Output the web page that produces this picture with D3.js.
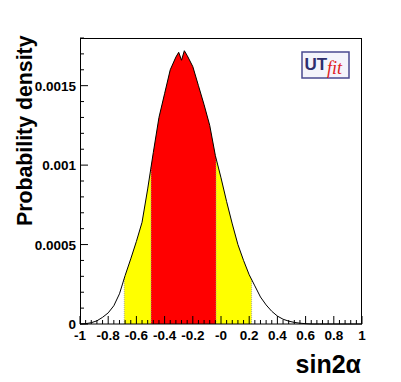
<!DOCTYPE html>
<html><head><meta charset="utf-8">
<script src="https://cdn.jsdelivr.net/npm/d3@7"></script>
<style>body{margin:0;background:#fff}svg{display:block}</style>
</head><body>
<script>
const xValues = [-1.00,-0.96,-0.92,-0.88,-0.84,-0.80,-0.76,-0.72,-0.68,-0.64,-0.60,-0.56,-0.52,-0.48,-0.44,-0.40,-0.36,-0.32,-0.30,-0.28,-0.26,-0.24,-0.20,-0.16,-0.12,-0.08,-0.04,0.00,0.04,0.08,0.12,0.16,0.20,0.24,0.28,0.32,0.36,0.40,0.44,0.48,0.52,0.56,0.60,0.64,0.70,0.80,0.90,1.00];
const density = [0,0.000002,0.000008,0.00002,0.000042,0.00007,0.000115,0.00019,0.000305,0.00041,0.00052,0.00064,0.00085,0.00108,0.0013,0.00145,0.0016,0.00168,0.00171,0.00166,0.00172,0.00169,0.00162,0.0015,0.00138,0.00125,0.00106,0.00092,0.00077,0.00063,0.0005,0.0004,0.00031,0.00024,0.00017,0.00012,0.00008,0.00005,0.00003,0.000018,0.00001,0.000005,0.000002,0,0,0,0,0];
const interval68 = [-0.496, -0.035];
const interval95 = [-0.686, 0.217];
const xTicks = [-1,-0.8,-0.6,-0.4,-0.2,0,0.2,0.4,0.6,0.8,1];
const xTickLabels = ["-1","-0.8","-0.6","-0.4","-0.2","-0","0.2","0.4","0.6","0.8","1"];
const yTicks = [0,0.0005,0.001,0.0015];
const yTickLabels = ["0","0.0005","0.001","0.0015"];

const W=401,H=382;
const FONT="Liberation Sans, Arial, Helvetica, sans-serif";
const svg=d3.select("body").append("svg").attr("width",W).attr("height",H);
const x=d3.scaleLinear().domain([-1,1]).range([80,362]);
const y=d3.scaleLinear().domain([0,0.0018]).range([324,38]);
const data=xValues.map((v,i)=>({x:v,y:density[i]}));
const area=d3.area().x(d=>x(d.x)).y0(y(0)).y1(d=>y(d.y));
const line=d3.line().x(d=>x(d.x)).y(d=>y(d.y));
const defs=svg.append("defs");
defs.append("clipPath").attr("id","c95").append("rect")
  .attr("x",x(interval95[0])).attr("y",0).attr("width",x(interval95[1])-x(interval95[0])).attr("height",H);
defs.append("clipPath").attr("id","c68").append("rect")
  .attr("x",x(interval68[0])).attr("y",0).attr("width",x(interval68[1])-x(interval68[0])).attr("height",H);
svg.append("path").datum(data).attr("d",area).attr("fill","#ffff00").attr("clip-path","url(#c95)");
svg.append("path").datum(data).attr("d",area).attr("fill","#ff0000").attr("clip-path","url(#c68)");
const interp=v=>{for(let i=1;i<data.length;i++){if(data[i].x>=v){const a=data[i-1],b=data[i];return a.y+(b.y-a.y)*(v-a.x)/(b.x-a.x);}}return 0;};
interval95.concat(interval68).forEach(v=>{
  svg.append("line").attr("x1",x(v)).attr("x2",x(v)).attr("y1",y(0)).attr("y2",y(interp(v)))
   .attr("stroke","#999").attr("stroke-width",0.8).attr("stroke-dasharray","1,1");
});
svg.append("path").datum(data).attr("d",line).attr("fill","none").attr("stroke","#000").attr("stroke-width",1);

svg.append("rect").attr("x",80.5).attr("y",38.5).attr("width",281).attr("height",285.5)
  .attr("fill","none").attr("stroke","#000").attr("stroke-width",1);

const xMinor=d3.range(-1,1.0001,0.04);
xMinor.forEach(v=>{
  const major=Math.abs(Math.round(v*5)-v*5)<1e-6;
  svg.append("line").attr("x1",x(v)).attr("x2",x(v)).attr("y1",324).attr("y2",324-(major?8:4))
   .attr("stroke","#000").attr("stroke-width",1);
});
xTicks.forEach((v,i)=>{
  svg.append("text").attr("x",x(v)).attr("y",340).attr("text-anchor","middle")
   .attr("font-family",FONT).attr("font-weight","bold").attr("font-size",13.5)
   .text(xTickLabels[i]);
});
d3.range(0,0.00180001,0.0001).forEach(v=>{
  const major=Math.abs(Math.round(v/0.0005)-v/0.0005)<1e-6;
  svg.append("line").attr("x1",80).attr("x2",80+(major?8:4)).attr("y1",y(v)).attr("y2",y(v))
   .attr("stroke","#000").attr("stroke-width",1);
});
yTicks.forEach((v,i)=>{
  svg.append("text").attr("x",76).attr("y",y(v)+5).attr("text-anchor","end")
   .attr("font-family",FONT).attr("font-weight","bold").attr("font-size",13.5)
   .text(yTickLabels[i]);
});
svg.append("text").attr("transform","translate(32,226) rotate(-90)")
  .attr("font-family",FONT).attr("font-weight","bold").attr("font-size",21.3)
  .text("Probability density");
svg.append("text").attr("x",361).attr("y",373).attr("text-anchor","end")
  .attr("font-family",FONT).attr("font-weight","bold").attr("font-size",25)
  .text("sin2α");
const lg=svg.append("g");
lg.append("rect").attr("x",302).attr("y",52).attr("width",47).attr("height",26)
  .attr("fill","#f4f4fb").attr("stroke","#4a4a90").attr("stroke-width",1.5);
lg.append("text").attr("x",304.5).attr("y",70).attr("font-family",FONT)
  .attr("font-weight","bold").attr("font-size",17).attr("fill","#2e2e6e").text("UT");
lg.append("text").attr("x",327).attr("y",74).attr("font-family","Liberation Serif, serif")
  .attr("font-style","italic").attr("font-size",18).attr("fill","#e02020").text("fit");
</script>
</body></html>
